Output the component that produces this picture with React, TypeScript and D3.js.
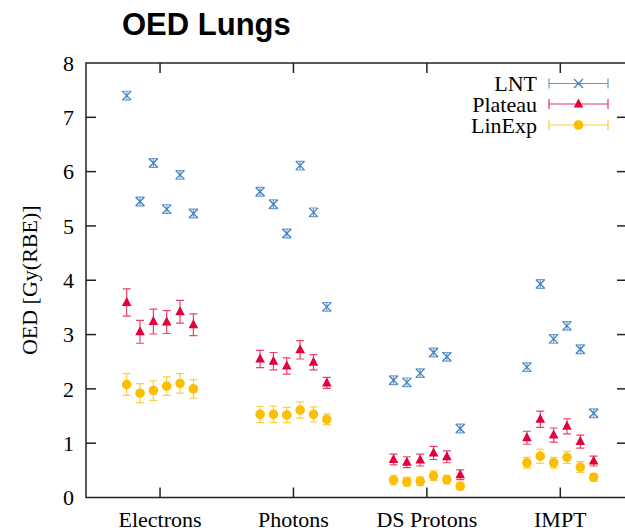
import React from "react";
import * as d3 from "d3";

const categories = ["Electrons", "Photons", "DS Protons", "IMPT"];
const yTicks = [0, 1, 2, 3, 4, 5, 6, 7, 8];

const lntValues = [
  [7.40, 5.45, 6.16, 5.31, 5.94, 5.23],
  [5.63, 5.40, 4.86, 6.11, 5.25, 3.51],
  [2.16, 2.12, 2.29, 2.67, 2.59, 1.27],
  [2.40, 3.93, 2.92, 3.16, 2.73, 1.55],
];
const lntErr = [
  [0.08, 0.08, 0.08, 0.08, 0.08, 0.08],
  [0.08, 0.08, 0.08, 0.08, 0.08, 0.08],
  [0.08, 0.08, 0.08, 0.08, 0.08, 0.08],
  [0.08, 0.08, 0.08, 0.08, 0.08, 0.08],
];
const plateauValues = [
  [3.59, 3.05, 3.24, 3.23, 3.42, 3.18],
  [2.55, 2.51, 2.42, 2.72, 2.49, 2.11],
  [0.70, 0.65, 0.69, 0.82, 0.75, 0.42],
  [1.10, 1.44, 1.15, 1.31, 1.03, 0.67],
];
const plateauErr = [
  [0.25, 0.21, 0.23, 0.21, 0.21, 0.20],
  [0.16, 0.16, 0.15, 0.17, 0.14, 0.10],
  [0.10, 0.10, 0.11, 0.12, 0.11, 0.09],
  [0.12, 0.15, 0.13, 0.14, 0.12, 0.09],
];
const linExpValues = [
  [2.08, 1.92, 1.97, 2.05, 2.10, 2.00],
  [1.53, 1.53, 1.52, 1.61, 1.53, 1.44],
  [0.32, 0.29, 0.30, 0.40, 0.33, 0.21],
  [0.64, 0.76, 0.64, 0.74, 0.56, 0.37],
];
const linExpErr = [
  [0.20, 0.175, 0.18, 0.17, 0.18, 0.17],
  [0.15, 0.15, 0.14, 0.15, 0.14, 0.10],
  [0.09, 0.08, 0.08, 0.09, 0.08, 0.07],
  [0.10, 0.13, 0.10, 0.11, 0.10, 0.07],
];

const seriesNames = ["LNT", "Plateau", "LinExp"];
const seriesColors = ["#3d80c2", "#e4003b", "#fcbf00"];

const W = 625;
const H = 531;
const left = 86;
const right = 627;
const top = 63;
const bottom = 497.5;

const x = d3.scaleLinear().domain([0.445, 4.5]).range([left, right]);
const y = d3.scaleLinear().domain([0, 8]).range([bottom, top]);

const serif = "'Liberation Serif', 'Times New Roman', serif";
const sans = "'Liberation Sans', Arial, sans-serif";

function Marker({ kind, cx, cy, color }: { kind: number; cx: number; cy: number; color: string }) {
  if (kind === 0) {
    const s = 4.5;
    return (
      <path
        d={`M${cx - s},${cy - s}L${cx + s},${cy + s}M${cx - s},${cy + s}L${cx + s},${cy - s}`}
        stroke={color}
        strokeWidth={1.3}
        fill="none"
      />
    );
  }
  if (kind === 1) {
    return (
      <path
        d={`M${cx},${cy - 5.5}L${cx + 4.8},${cy + 3.5}L${cx - 4.8},${cy + 3.5}Z`}
        fill={color}
      />
    );
  }
  return <circle cx={cx} cy={cy} r={4.8} fill={color} />;
}

function Series({ kind, values, errs }: { kind: number; values: number[][]; errs: number[][] }) {
  const color = seriesColors[kind];
  const cap = 4;
  const items: React.ReactNode[] = [];
  values.forEach((grp, gi) => {
    grp.forEach((v, i) => {
      const cx = x(gi + 1 + (i - 2.5) * 0.1);
      const e = errs[gi][i];
      const y1 = y(v + e);
      const y0 = y(v - e);
      items.push(
        <g key={`${gi}-${i}`}>
          <path
            d={`M${cx},${y1}L${cx},${y0}M${cx - cap},${y1}L${cx + cap},${y1}M${cx - cap},${y0}L${cx + cap},${y0}`}
            stroke={color}
            strokeOpacity={0.75}
            strokeWidth={1.2}
            fill="none"
          />
          <Marker kind={kind} cx={cx} cy={y(v)} color={color} />
        </g>
      );
    });
  });
  return <g>{items}</g>;
}

export default function App() {
  const axisColor = "#222";
  const tickLen = 10;
  const legendY = [83.5, 104, 125];
  const legX0 = 549;
  const legX1 = 608;
  return (
    <svg
      width={W}
      height={H}
      style={{ position: "absolute", left: 0, top: 0, background: "#fff" }}
    >
      <rect x={0} y={0} width={W} height={H} fill="#fff" />
      <text x={122} y={35} fontFamily={sans} fontWeight="bold" fontSize={31} fill="#000">
        OED Lungs
      </text>

      {/* y ticks */}
      {yTicks.map((t) => (
        <g key={t}>
          {t > 0 && t < 8 && (
            <>
              <line x1={left} x2={left + tickLen} y1={y(t)} y2={y(t)} stroke={axisColor} strokeWidth={1.5} />
              <line x1={right - tickLen} x2={right} y1={y(t)} y2={y(t)} stroke={axisColor} strokeWidth={1.5} />
            </>
          )}
          <text
            x={left - 12}
            y={y(t)}
            dy="0.35em"
            textAnchor="end"
            fontFamily={serif}
            fontSize={22}
            fill="#000"
          >
            {t}
          </text>
        </g>
      ))}

      {/* x ticks */}
      {categories.map((c, i) => (
        <g key={c}>
          <line x1={x(i + 1)} x2={x(i + 1)} y1={bottom} y2={bottom - tickLen} stroke={axisColor} strokeWidth={1.5} />
          <line x1={x(i + 1)} x2={x(i + 1)} y1={top} y2={top + tickLen} stroke={axisColor} strokeWidth={1.5} />
          <text x={x(i + 1)} y={527} textAnchor="middle" fontFamily={serif} fontSize={22} fill="#000">
            {c}
          </text>
        </g>
      ))}

      {/* frame */}
      <rect
        x={left}
        y={top}
        width={right - left}
        height={bottom - top}
        fill="none"
        stroke={axisColor}
        strokeWidth={1.5}
      />

      <text
        transform={`translate(29,${(top + bottom) / 2}) rotate(-90)`}
        textAnchor="middle"
        dy="0.35em"
        fontFamily={serif}
        fontSize={22}
        fill="#000"
      >
        OED [Gy(RBE)]
      </text>

      <Series kind={0} values={lntValues} errs={lntErr} />
      <Series kind={1} values={plateauValues} errs={plateauErr} />
      <Series kind={2} values={linExpValues} errs={linExpErr} />

      {/* legend */}
      {seriesNames.map((n, i) => (
        <g key={n}>
          <text
            x={537}
            y={legendY[i]}
            dy="0.35em"
            textAnchor="end"
            fontFamily={serif}
            fontSize={22}
            fill="#000"
          >
            {n}
          </text>
          <path
            d={`M${legX0},${legendY[i]}L${legX1},${legendY[i]}M${legX0},${legendY[i] - 5}L${legX0},${legendY[i] + 5}M${legX1},${legendY[i] - 5}L${legX1},${legendY[i] + 5}`}
            stroke={seriesColors[i]}
            strokeOpacity={0.8}
            strokeWidth={1.2}
            fill="none"
          />
          <Marker kind={i} cx={(legX0 + legX1) / 2} cy={legendY[i]} color={seriesColors[i]} />
        </g>
      ))}
    </svg>
  );
}
